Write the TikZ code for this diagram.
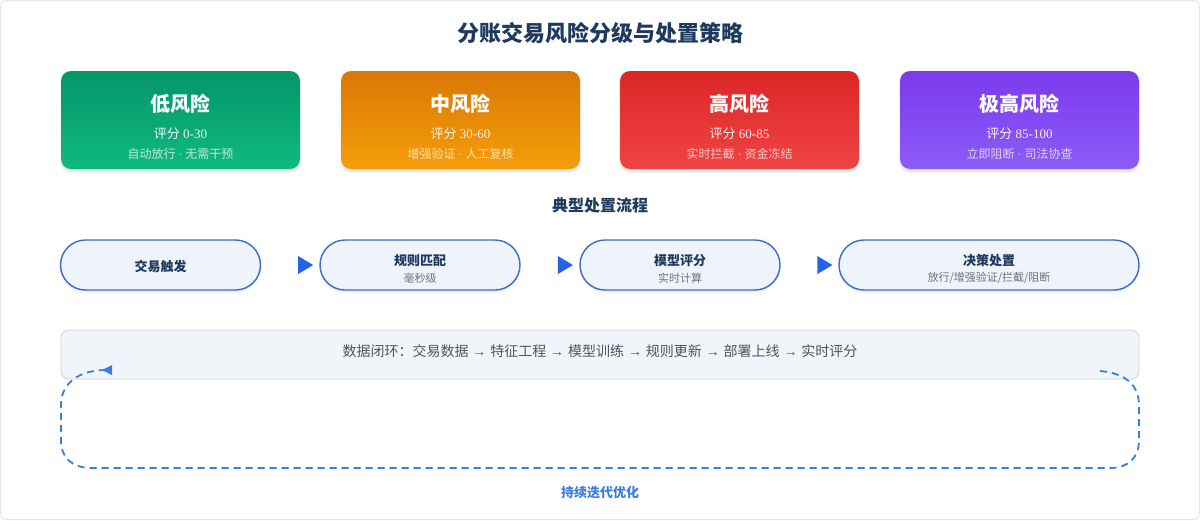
\documentclass[tikz,border=0pt]{standalone}
\usepackage{fontspec}
\setmainfont{Liberation Serif}
\newfontfamily\cjk{Noto Sans CJK SC}
\newfontfamily\lsans{Liberation Sans}
\newcommand{\mydot}{{\rmfamily\ ·\ }}
\newcommand{\myarr}{{\lsans\ →\ }}
\usetikzlibrary{shapes.geometric,shadows.blur,calc}
\definecolor{navy}{HTML}{1E3A5F}
\definecolor{gA}{HTML}{059669}\definecolor{gB}{HTML}{10B981}
\definecolor{oA}{HTML}{D97706}\definecolor{oB}{HTML}{F59E0B}
\definecolor{rA}{HTML}{DC2626}\definecolor{rB}{HTML}{EF4444}
\definecolor{pA}{HTML}{7C3AED}\definecolor{pB}{HTML}{8B5CF6}
\definecolor{pillfill}{HTML}{EEF3FC}
\definecolor{pillline}{HTML}{3B6CC9}
\definecolor{arrowblue}{HTML}{2563EB}
\definecolor{loopblue}{HTML}{3B7DDD}
\definecolor{boxfill}{HTML}{F1F5F9}
\definecolor{boxline}{HTML}{CBD5E1}
\definecolor{subgray}{HTML}{6B7280}
\definecolor{textgray}{HTML}{4B5563}
\definecolor{framegray}{HTML}{E5E7EB}
\tikzset{
  card/.style={rounded corners=10pt, minimum width=239pt, minimum height=98pt, inner sep=0pt,
    blur shadow={shadow xshift=0pt, shadow yshift=-3pt, shadow blur steps=6, shadow opacity=12}},
  cardtitle/.style={text=white, font=\cjk\bfseries\fontsize{20}{24}\selectfont},
  cardscore/.style={text=white, text opacity=0.92, font=\fontsize{13}{15}\selectfont},
  carddesc/.style={text=white, text opacity=0.72, font=\cjk\fontsize{12}{14}\selectfont},
  pill/.style={draw=pillline, line width=1.4pt, fill=pillfill, rounded corners=25pt,
    minimum height=50pt, inner sep=0pt,
    blur shadow={shadow xshift=0pt, shadow yshift=-2pt, shadow blur steps=5, shadow opacity=10}},
  pillmain/.style={text=navy, font=\cjk\bfseries\fontsize{13}{15}\selectfont},
  pillsub/.style={text=subgray, font=\cjk\fontsize{11}{13}\selectfont},
  tri/.style={isosceles triangle, isosceles triangle apex angle=60, fill=arrowblue, inner sep=0pt,
    minimum height=15pt, minimum width=18pt, isosceles triangle stretches},
  loopline/.style={draw=loopblue, line width=1.8pt, dash pattern=on 7pt off 5pt},
}
\begin{document}
\begin{tikzpicture}[x=1pt,y=-1pt]
\useasboundingbox (0,0) rectangle (1200,520);
\draw[framegray, line width=1pt, rounded corners=6pt] (0.5,0.5) rectangle (1199.5,519.5);

\node[text=navy, font=\cjk\bfseries\fontsize{22}{26}\selectfont] (title) at (600,33) {分账交易风险分级与处置策略};

% cards
\node[card, top color=gA, bottom color=gB] (c1) at (180.5,120) {};
\node[card, top color=oA, bottom color=oB] (c2) at (460.5,120) {};
\node[card, top color=rA, bottom color=rB] (c3) at (739.5,120) {};
\node[card, top color=pA, bottom color=pB] (c4) at (1019.5,120) {};

\node[cardtitle] (c1t) at (180.5,104) {低风险};
\node[cardscore] (c1s) at (180.5,134) {{\cjk 评分} 0-30};
\node[carddesc] (c1d) at (180.5,154) {自动放行\mydot 无需干预};
\node[cardtitle] (c2t) at (460.5,104) {中风险};
\node[cardscore] (c2s) at (460.5,134) {{\cjk 评分} 30-60};
\node[carddesc] (c2d) at (460.5,154) {增强验证\mydot 人工复核};
\node[cardtitle] (c3t) at (739.5,104) {高风险};
\node[cardscore] (c3s) at (739.5,134) {{\cjk 评分} 60-85};
\node[carddesc] (c3d) at (739.5,154) {实时拦截\mydot 资金冻结};
\node[cardtitle] (c4t) at (1019.5,104) {极高风险};
\node[cardscore] (c4s) at (1019.5,134) {{\cjk 评分} 85-100};
\node[carddesc] (c4d) at (1019.5,154) {立即阻断\mydot 司法协查};

\node[text=navy, font=\cjk\bfseries\fontsize{16}{19}\selectfont] (flowtitle) at (600,205) {典型处置流程};

% flow
\node[pill, minimum width=200pt] (f1) at (160.5,265) {};
\node[pill, minimum width=200pt] (f2) at (420,265) {};
\node[pill, minimum width=200pt] (f3) at (680,265) {};
\node[pill, minimum width=300pt] (f4) at (989,265) {};
\node[pillmain] (f1m) at (160.5,267) {交易触发};
\node[pillmain] (f2m) at (420,261) {规则匹配};
\node[pillsub]  (f2s) at (420,278) {毫秒级};
\node[pillmain] (f3m) at (680,261) {模型评分};
\node[pillsub]  (f3s) at (680,278) {实时计算};
\node[pillmain] (f4m) at (989,261) {决策处置};
\node[pillsub]  (f4s) at (989,278) {放行/增强验证/拦截/阻断};

\node[tri] (a1) at ($ (f1.east)!0.5!(f2.west) + (13,0) $) {};
\node[tri] (a2) at ($ (f2.east)!0.5!(f3.west) + (13,0) $) {};
\node[tri] (a3) at ($ (f3.east)!0.5!(f4.west) + (13,0) $) {};

% data loop box
\node[draw=boxline, line width=0.8pt, fill=boxfill, rounded corners=8pt, minimum width=1078pt,
  minimum height=49pt, inner sep=0pt] (box) at (600,354.5) {};
\node[text=textgray, font=\cjk\fontsize{14}{16}\selectfont] (boxt) at (600,351) {数据闭环：交易数据\myarr 特征工程\myarr 模型训练\myarr 规则更新\myarr 部署上线\myarr 实时评分};

\coordinate (ls) at (1100,371);
\coordinate (le) at (104,370);
\draw[loopline] (ls) .. controls (1125,373) and (1139,385) .. (1139,405) -- (1139,440)
  .. controls (1139,458) and (1128,468) .. (1110,468) -- (92,468)
  .. controls (72,468) and (61,458) .. (61,440) -- (61,405)
  .. controls (61,385) and (76,371) .. (le);
\fill[loopblue] (102,370) -- (112,365) -- (112,375) -- cycle;

\node[text=loopblue, font=\cjk\bfseries\fontsize{13}{15}\selectfont] (looplabel) at (600,493) {持续迭代优化};
\end{tikzpicture}
\end{document}
